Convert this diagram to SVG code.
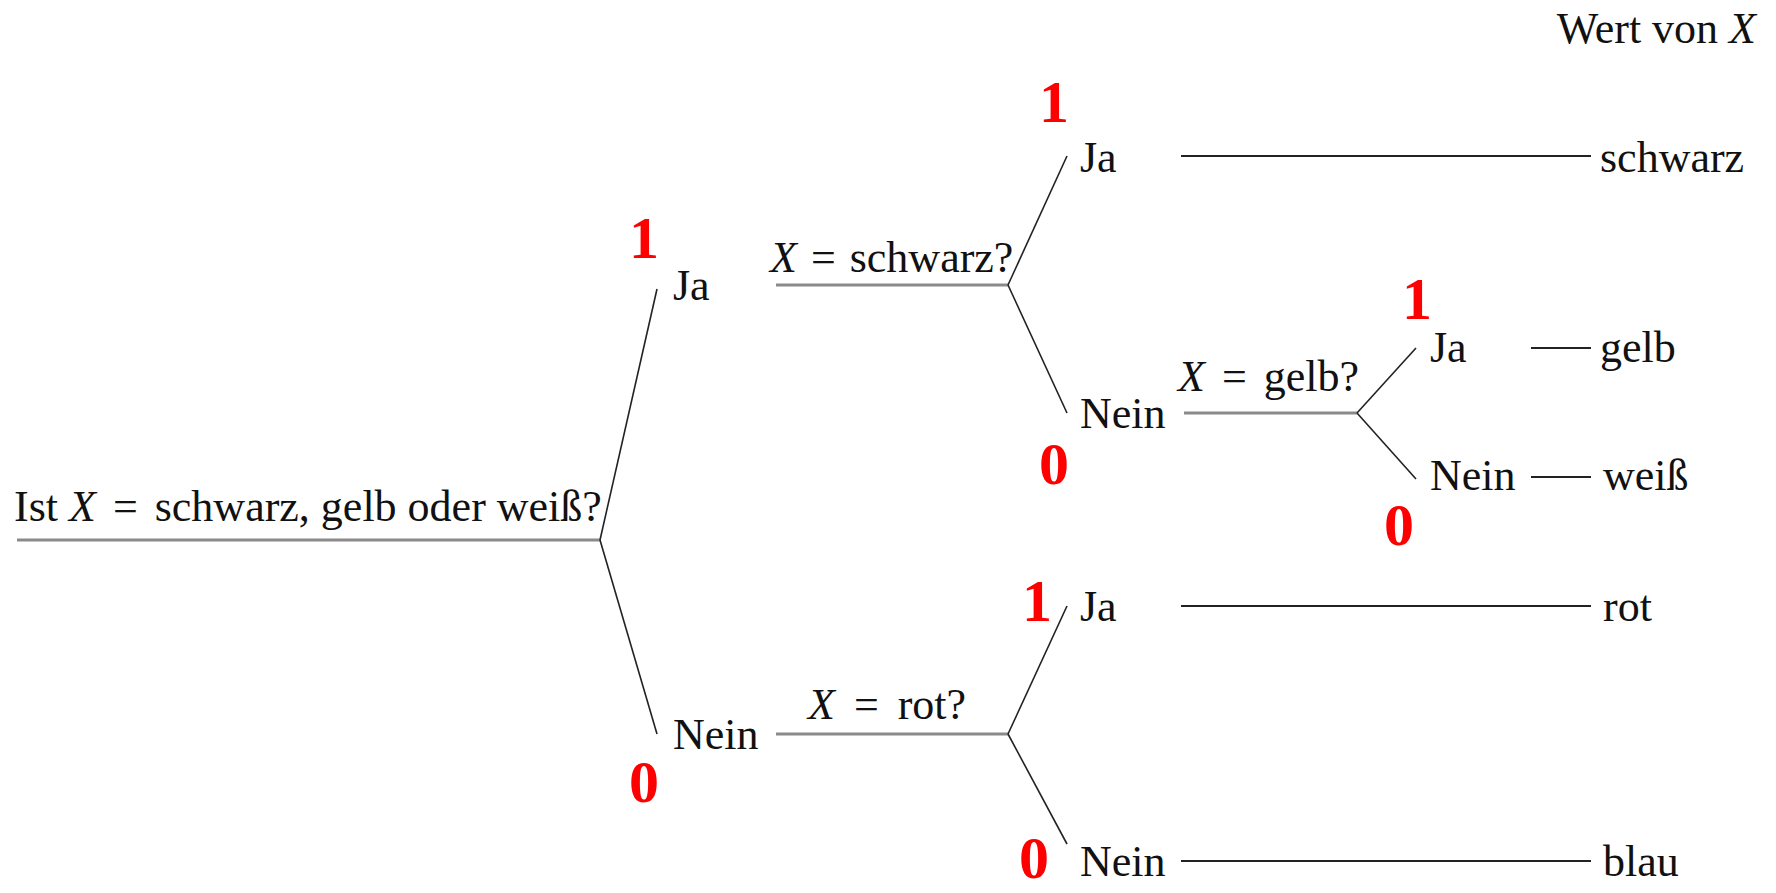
<svg xmlns="http://www.w3.org/2000/svg" width="1776" height="893" viewBox="0 0 1776 893">
<style>
text{font-family:"Liberation Serif","DejaVu Serif",serif;font-size:44px;fill:#111}
.m{font-style:italic}
.red{font-weight:bold;font-size:60px;fill:#ff0000}
.q{stroke:#8a8a8a;stroke-width:3;fill:none}
.b{stroke:#222;stroke-width:1.6;fill:none}
.leaf{stroke:#222;stroke-width:2.2;fill:none}
</style>
<rect width="1776" height="893" fill="#fff"/>
<g id="connectors">
<line class="q" x1="17" y1="540" x2="600" y2="540" stroke-width="4"/>
<line class="b" x1="600" y1="540" x2="657" y2="289"/>
<line class="b" x1="600" y1="540" x2="657" y2="734"/>
<line class="q" x1="776" y1="285" x2="1008" y2="285"/>
<line class="b" x1="1008" y1="285" x2="1067" y2="156"/>
<line class="b" x1="1008" y1="285" x2="1067" y2="413"/>
<line class="leaf" x1="1181" y1="156" x2="1591" y2="156"/>
<line class="q" x1="1184" y1="413" x2="1357" y2="413"/>
<line class="b" x1="1357" y1="413" x2="1416" y2="348"/>
<line class="b" x1="1357" y1="413" x2="1416" y2="479"/>
<line class="leaf" x1="1531" y1="348" x2="1591" y2="348"/>
<line class="leaf" x1="1531" y1="477" x2="1591" y2="477"/>
<line class="q" x1="776" y1="734" x2="1008" y2="734"/>
<line class="b" x1="1008" y1="734" x2="1067" y2="606"/>
<line class="b" x1="1008" y1="734" x2="1067" y2="844"/>
<line class="leaf" x1="1181" y1="606" x2="1591" y2="606"/>
<line class="leaf" x1="1181" y1="861" x2="1591" y2="861"/>
</g>
<g id="header"><text x="1756" y="43" text-anchor="end">Wert von <tspan class="m">X</tspan></text></g>
<g id="q-root"><text x="14" y="521">Ist <tspan class="m">X</tspan> <tspan dx="6">=</tspan> <tspan dx="6">schwarz, gelb oder weiß?</tspan></text></g>
<g id="n-ja1"><text x="673" y="300">Ja</text><text class="red" x="629" y="258">1</text></g>
<g id="n-nein1"><text x="673" y="749">Nein</text><text class="red" x="629" y="802">0</text></g>
<g id="q-schwarz"><text x="770" y="272"><tspan class="m">X</tspan> <tspan dx="3">=</tspan> <tspan dx="3">schwarz?</tspan></text></g>
<g id="n-ja2"><text x="1080" y="172">Ja</text><text class="red" x="1039" y="122">1</text></g>
<g id="leaf-schwarz"><text x="1600" y="172">schwarz</text></g>
<g id="n-nein2"><text x="1080" y="428">Nein</text><text class="red" x="1039" y="484">0</text></g>
<g id="q-gelb"><text x="1178" y="391"><tspan class="m">X</tspan> <tspan dx="6">=</tspan> <tspan dx="6">gelb?</tspan></text></g>
<g id="n-ja3"><text x="1430" y="362">Ja</text><text class="red" x="1402" y="319">1</text></g>
<g id="leaf-gelb"><text x="1600" y="362">gelb</text></g>
<g id="n-nein3"><text x="1430" y="490">Nein</text><text class="red" x="1384" y="545">0</text></g>
<g id="leaf-weiss"><text x="1603" y="490">weiß</text></g>
<g id="q-rot"><text x="808" y="719"><tspan class="m">X</tspan> <tspan dx="8">=</tspan> <tspan dx="8">rot?</tspan></text></g>
<g id="n-ja4"><text x="1080" y="621">Ja</text><text class="red" x="1022" y="621">1</text></g>
<g id="leaf-rot"><text x="1603" y="621">rot</text></g>
<g id="n-nein4"><text x="1080" y="876">Nein</text><text class="red" x="1019" y="878">0</text></g>
<g id="leaf-blau"><text x="1603" y="876">blau</text></g>
</svg>
